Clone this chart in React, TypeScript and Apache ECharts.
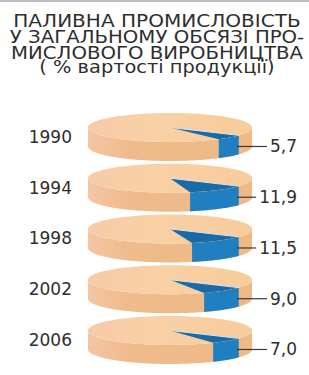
import React, { useEffect, useRef } from "react";
import * as echarts from "echarts";

const titleLines = [
  "ПАЛИВНА ПРОМИСЛОВІСТЬ",
  "У ЗАГАЛЬНОМУ ОБСЯЗІ ПРО-",
  "МИСЛОВОГО ВИРОБНИЦТВА",
  "( % вартості продукції)",
];
const years = ["1990", "1994", "1998", "2002", "2006"];
const shares = [5.7, 11.9, 11.5, 9.0, 7.0];

const FONT_FAMILY = '"DejaVu Sans", "Liberation Sans", Arial, sans-serif';
const TEXT_COLOR = "#2e2e2e";

function measure(s: string, size: number): number {
  const c = document.createElement("canvas").getContext("2d");
  if (!c) return s.length * size * 0.6;
  c.font = `${size}px ${FONT_FAMILY}`;
  return c.measureText(s).width;
}

export default function App() {
  const ref = useRef<HTMLDivElement>(null);
  useEffect(() => {
    if (!ref.current) return;
    const chart = echarts.init(ref.current, null, { renderer: "svg" });
    const RY = 14.5;
    const T = 19;
    const START = (33 * Math.PI) / 180;

    const renderItem = (params: any, api: any) => {
      const idx = api.value(1);
      const v = api.value(2);
      const c = api.coord([api.value(0), idx]);
      const cs = params.coordSys;
      const rx = cs.width / 2;
      const cx = c[0];
      const cy = c[1] - T / 2;
      const p = (a: number, dy: number) => [cx + rx * Math.cos(a), cy + dy + RY * Math.sin(a)];
      const N = 90;
      const side: number[][] = [];
      for (let i = 0; i <= N; i++) side.push(p((Math.PI * i) / N, T));
      for (let i = N; i >= 0; i--) side.push(p((Math.PI * i) / N, 0));
      const top: number[][] = [];
      for (let i = 0; i < 2 * N; i++) top.push(p((Math.PI * i) / N, 0));
      const a0 = START;
      const a1 = START + (v / 100) * Math.PI * 2;
      const M = 30;
      const bside: number[][] = [];
      for (let i = 0; i <= M; i++) bside.push(p(a0 + ((a1 - a0) * i) / M, 0));
      for (let i = M; i >= 0; i--) bside.push(p(a0 + ((a1 - a0) * i) / M, T));
      const btop: number[][] = [[cx, cy]];
      for (let i = 0; i <= M; i++) btop.push(p(a0 + ((a1 - a0) * i) / M, 0));

      const label = v.toFixed(1).replace(".", ",");
      const labelRight = 297;
      const ly = cy + 19;
      const lw = measure(label, 17);
      const lineStart = cx + rx * Math.cos(a0) - 2;
      const lineEnd = labelRight - lw - 3;

      return {
        type: "group",
        children: [
          {
            type: "polygon",
            shape: { points: side },
            style: {
              fill: new echarts.graphic.LinearGradient(0, 0, 1, 0, [
                { offset: 0, color: "#f4c6a4" },
                { offset: 0.25, color: "#f0bb8c" },
                { offset: 1, color: "#eeb985" },
              ]),
            },
          },
          { type: "polygon", shape: { points: bside }, style: { fill: "#1f7fc1" } },
          {
            type: "polygon",
            shape: { points: top },
            style: {
              fill: new echarts.graphic.LinearGradient(0, 0, 1, 0, [
                { offset: 0, color: "#f6cba8" },
                { offset: 0.4, color: "#f9d1a5" },
                { offset: 1, color: "#f8cc9c" },
              ]),
            },
          },
          { type: "polygon", shape: { points: btop }, style: { fill: "#1b6aa8" } },
          {
            type: "line",
            shape: { x1: cx, y1: cy, x2: p(a0, 0)[0], y2: p(a0, 0)[1] },
            style: { stroke: "#d9e6ee", lineWidth: 1 },
          },
          {
            type: "line",
            shape: { x1: lineStart, y1: ly, x2: lineEnd, y2: ly },
            style: { stroke: "#3a3a3a", lineWidth: 1.2 },
          },
          {
            type: "text",
            x: labelRight,
            y: ly,
            style: {
              text: label,
              fill: TEXT_COLOR,
              font: `17px ${FONT_FAMILY}`,
              align: "right",
              verticalAlign: "middle",
            },
          },
        ],
      };
    };

    const titleY = [21.5, 37, 52.5, 66.5];
    const titleScale = [1.18, 1.16, 1.16, 1.14];

    chart.setOption({
      animation: false,
      backgroundColor: "#ffffff",
      grid: { left: 88, right: 57, top: 111.6, height: 253.75 },
      xAxis: { type: "value", min: 0, max: 100, show: false },
      yAxis: {
        type: "category",
        data: years,
        inverse: true,
        axisLine: { show: false },
        axisTick: { show: false },
        splitLine: { show: false },
        axisLabel: {
          margin: 16,
          color: TEXT_COLOR,
          fontSize: 17,
          fontFamily: FONT_FAMILY,
        },
      },
      graphic: [
        { type: "rect", shape: { x: 0, y: 0, width: 309, height: 2 }, style: { fill: "#b9bec4" } },
        ...titleLines.map((t, i) => ({
          type: "text",
          x: 157,
          y: titleY[i],
          scaleX: titleScale[i],
          style: {
            text: t,
            fill: TEXT_COLOR,
            font: `17px ${FONT_FAMILY}`,
            align: "center",
            verticalAlign: "middle",
          },
        })),
      ],
      series: [
        {
          type: "custom",
          renderItem,
          encode: { x: 0, y: 1 },
          data: shares.map((v, i) => [50, i, v]),
        },
      ],
    });
    return () => chart.dispose();
  }, []);
  return (
    <div
      ref={ref}
      style={{ position: "absolute", left: 0, top: 0, width: 309, height: 375 }}
    />
  );
}
